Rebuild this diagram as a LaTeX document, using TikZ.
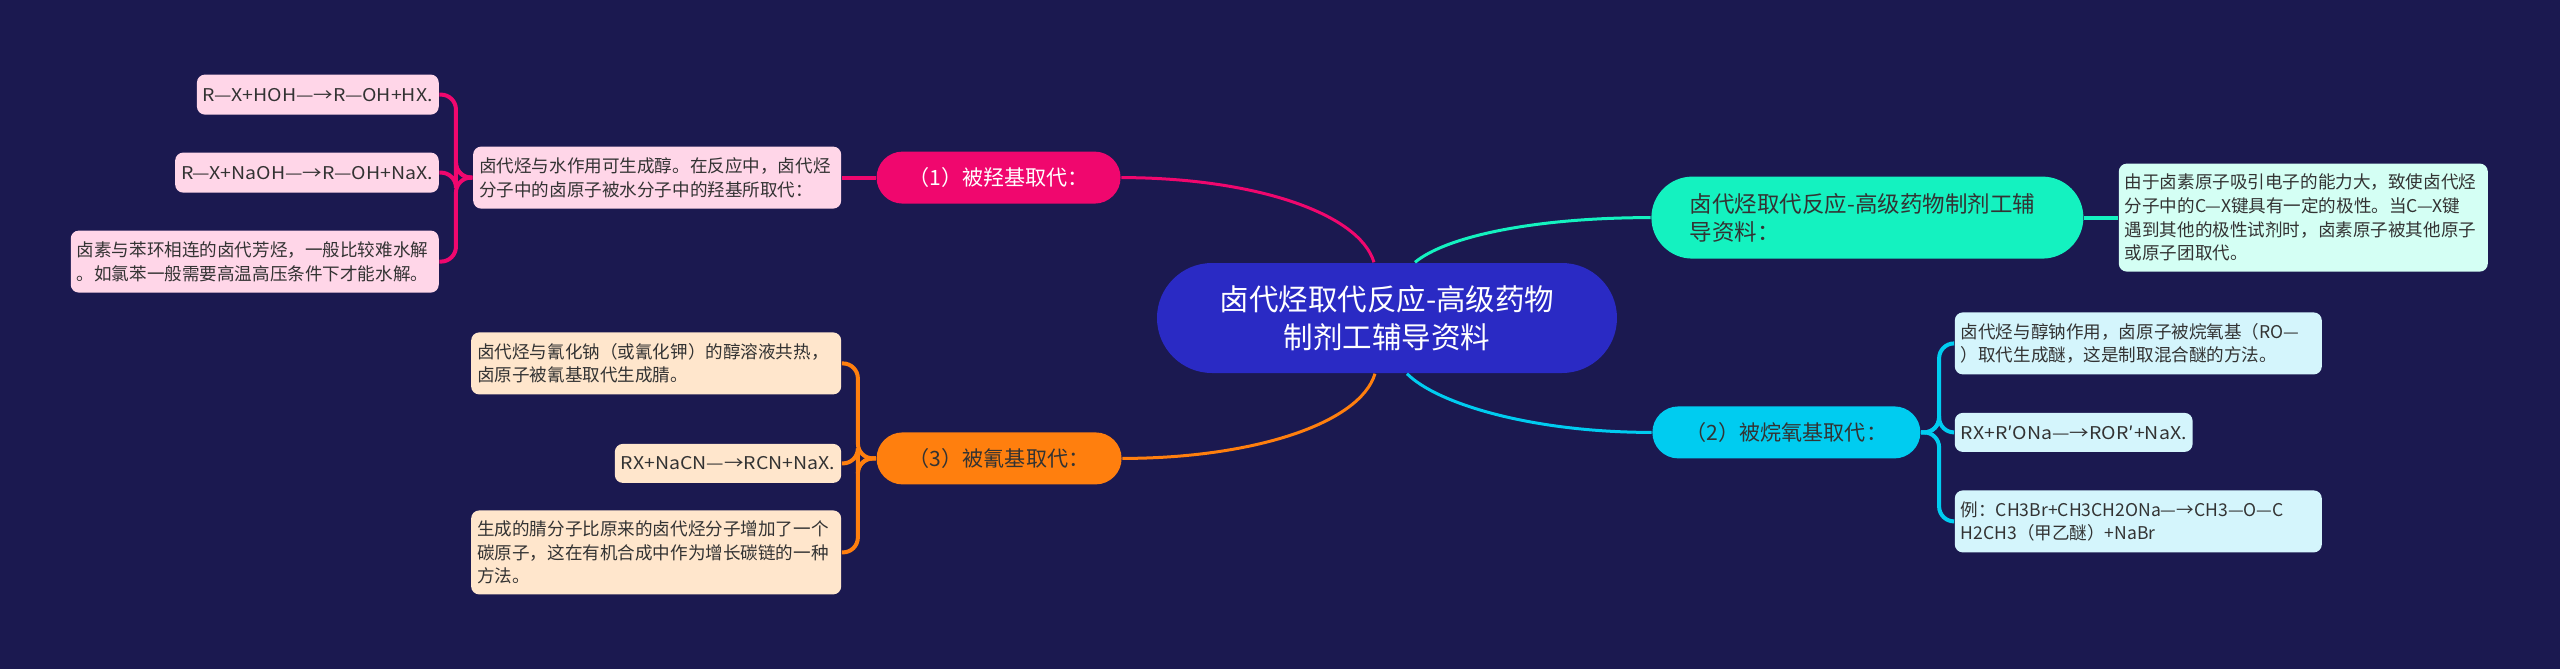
\documentclass[tikz,border=0pt]{standalone}
\usepackage{fontspec}
\setmainfont{Noto Sans CJK SC}
\newfontfamily\formulafont[FakeStretch=1.11]{Noto Sans CJK SC}
\usetikzlibrary{positioning}
\definecolor{bgnavy}{RGB}{27,25,80}
\definecolor{topicblue}{RGB}{42,42,196}
\definecolor{hydroxypink}{RGB}{240,7,110}
\definecolor{hydroxyleaf}{RGB}{255,214,232}
\definecolor{cyanoorange}{RGB}{255,127,14}
\definecolor{cyanoleaf}{RGB}{255,230,204}
\definecolor{summaryteal}{RGB}{20,242,192}
\definecolor{summaryleaf}{RGB}{212,255,244}
\definecolor{alkoxycyan}{RGB}{0,204,240}
\definecolor{alkoxyleaf}{RGB}{212,245,252}
\definecolor{darktext}{RGB}{51,51,51}
\tikzstyle{topic} = [rectangle, rounded corners = 5.5mm, fill = topicblue, text = white, minimum width = 46mm, minimum height = 11mm, align = center, font = \fontsize{8.4pt}{10.8pt}\selectfont]
\tikzstyle{branch} = [rectangle, rounded corners = 2.6mm, minimum height = 5.2mm, text = darktext, font = \fontsize{6pt}{8pt}\selectfont]
\tikzstyle{leaf} = [rectangle, rounded corners = 0.8mm, inner xsep = 0.6mm, inner ysep = 0.4mm, minimum height = 4mm, align = left, text = darktext, font = \fontsize{5pt}{6.7pt}\selectfont]
\tikzstyle{formula} = [leaf, font = \fontsize{5pt}{6.7pt}\formulafont]
\tikzstyle{curve} = [line width = 0.3mm]
\tikzstyle{link} = [line width = 0.4mm, rounded corners = 1.5mm]

\begin{document}
\begin{tikzpicture}[node distance = 3.4mm]
\fill [bgnavy] (-138.7mm,31.8mm) rectangle (117.3mm,-35.1mm);
\node (title) [topic] {卤代烃取代反应-高级药物\\制剂工辅导资料};

\node (hydroxy) [branch, fill = hydroxypink, text = white, minimum width = 24.4mm, above left = 5.8mm and 3.5mm of title] {（1）被羟基取代：};
\node (cyano) [branch, fill = cyanoorange, minimum width = 24.5mm, below left = 5.8mm and 3.4mm of title] {（3）被氰基取代：};
\node (summary) [branch, fill = summaryteal, rounded corners = 4.1mm, minimum height = 8.2mm, text width = 35.5mm, inner xsep = 3.85mm, align = left, font = \fontsize{6.4pt}{8pt}\selectfont, above right = 0.3mm and 3.3mm of title] {卤代烃取代反应-高级药物制剂工辅\\导资料：};
\node (alkoxy) [branch, fill = alkoxycyan, minimum width = 26.8mm, below right = 3.2mm and 3.4mm of title] {（2）被烷氧基取代：};

\node (pmain) [leaf, fill = hydroxyleaf, text width = 35.6mm, minimum height = 6.2mm, left = 3.4mm of hydroxy] {卤代烃与水作用可生成醇。在反应中，卤代烃\\分子中的卤原子被水分子中的羟基所取代：};
\node (pwater) [formula, fill = hydroxyleaf, left = 3.3mm of pmain, yshift = 8.3mm] {R—X+HOH—→R—OH+HX.};
\node (pbase) [formula, fill = hydroxyleaf, left = 3.3mm of pmain, yshift = 0.5mm] {R—X+NaOH—→R—OH+NaX.};
\node (parene) [leaf, fill = hydroxyleaf, text width = 35.6mm, minimum height = 6.2mm, left = 3.3mm of pmain, yshift = -8.4mm] {卤素与苯环相连的卤代芳烃，一般比较难水解\\。如氯苯一般需要高温高压条件下才能水解。};

\node (onitrile) [leaf, fill = cyanoleaf, text width = 35.8mm, minimum height = 6.2mm, left = 3.4mm of cyano, yshift = 9.5mm] {卤代烃与氰化钠（或氰化钾）的醇溶液共热，\\卤原子被氰基取代生成腈。};
\node (oeq) [formula, fill = cyanoleaf, minimum height = 3.9mm, left = 3.4mm of cyano, yshift = -0.5mm] {RX+NaCN—→RCN+NaX.};
\node (ochain) [leaf, fill = cyanoleaf, text width = 35.8mm, minimum height = 8.4mm, left = 3.4mm of cyano, yshift = -9.4mm] {生成的腈分子比原来的卤代烃分子增加了一个\\碳原子，这在有机合成中作为增长碳链的一种\\方法。};

\node (tpolar) [leaf, fill = summaryleaf, text width = 35.7mm, minimum height = 10.8mm, right = 3.4mm of summary] {由于卤素原子吸引电子的能力大，致使卤代烃\\分子中的C—X键具有一定的极性。当C—X键\\遇到其他的极性试剂时，卤素原子被其他原子\\或原子团取代。};

\node (cether) [leaf, fill = alkoxyleaf, text width = 35.5mm, minimum height = 6.2mm, right = 3.3mm of alkoxy, yshift = 8.9mm] {卤代烃与醇钠作用，卤原子被烷氧基（RO—\\）取代生成醚，这是制取混合醚的方法。};
\node (ceq) [formula, fill = alkoxyleaf, minimum height = 3.9mm, right = 3.3mm of alkoxy] {RX+R′ONa—→ROR′+NaX.};
\node (cexample) [leaf, fill = alkoxyleaf, text width = 35.5mm, minimum height = 6.2mm, right = 3.3mm of alkoxy, yshift = -8.9mm] {例：CH3Br+CH3CH2ONa—→CH3—O—C\\H2CH3（甲乙醚）+NaBr};

\draw [curve, hydroxypink] (hydroxy.east) .. controls +(13mm,0) and +(-1.5mm,5mm) .. ([xshift=-1.3mm]title.north);
\draw [curve, cyanoorange] (cyano.east) .. controls +(13mm,0) and +(-1.5mm,-5mm) .. ([xshift=-1.2mm]title.south);
\draw [curve, summaryteal] ([xshift=2.8mm]title.north) .. controls +(3mm,2.5mm) and +(-12mm,0) .. (summary.west);
\draw [curve, alkoxycyan] ([xshift=2mm]title.south) .. controls +(3mm,-3mm) and +(-12mm,0) .. (alkoxy.west);

\draw [link, hydroxypink] (hydroxy.west) -- (pmain.east);
\draw [link, hydroxypink] (pmain.west) -- ++(-1.65mm,0) |- (pwater.east);
\draw [link, hydroxypink] (pmain.west) -- ++(-1.65mm,0) |- (pbase.east);
\draw [link, hydroxypink] (pmain.west) -- ++(-1.65mm,0) |- (parene.east);

\draw [link, cyanoorange] (cyano.west) -- ++(-1.8mm,0) |- (onitrile.east);
\draw [link, cyanoorange] (cyano.west) -- ++(-1.8mm,0) |- (oeq.east);
\draw [link, cyanoorange] (cyano.west) -- ++(-1.8mm,0) |- (ochain.east);

\draw [link, summaryteal] (summary.east) -- (tpolar.west);

\draw [link, alkoxycyan] (alkoxy.east) -- ++(1.8mm,0) |- (cether.west);
\draw [link, alkoxycyan] (alkoxy.east) -- ++(1.8mm,0) |- (ceq.west);
\draw [link, alkoxycyan] (alkoxy.east) -- ++(1.8mm,0) |- (cexample.west);
\end{tikzpicture}
\end{document}
